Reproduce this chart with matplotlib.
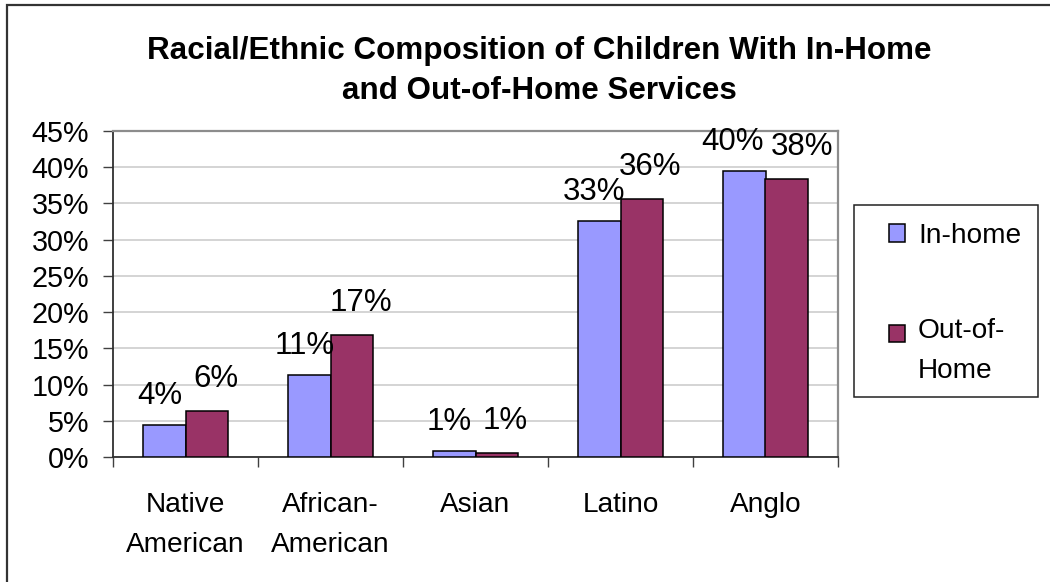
import matplotlib
matplotlib.use("Agg")
import matplotlib.pyplot as plt
import numpy as np
from matplotlib.patches import Rectangle
from matplotlib.legend_handler import HandlerPatch

# ---------------- data ----------------
categories = ["Native\nAmerican", "African-\nAmerican", "Asian", "Latino", "Anglo"]
series_names = ["In-home", "Out-of-\nHome"]
in_home = [4.4, 11.3, 0.8, 32.6, 39.5]
out_of_home = [6.3, 16.8, 0.6, 35.6, 38.4]
in_home_labels = ["4%", "11%", "1%", "33%", "40%"]
out_of_home_labels = ["6%", "17%", "1%", "36%", "38%"]
ytick_vals = [0, 5, 10, 15, 20, 25, 30, 35, 40, 45]
ytick_labels = ["0%", "5%", "10%", "15%", "20%", "25%", "30%", "35%", "40%", "45%"]
title = "Racial/Ethnic Composition of Children With In-Home\nand Out-of-Home Services"

# ---------------- style ----------------
plt.rcParams['font.family'] = ['Liberation Sans', 'DejaVu Sans']
W, H = 1050, 582
DPI = 100
c_in = "#9999FF"
c_out = "#993366"
fs = 20.2
fs_y = 20.7
fs_lab = 22.5

fig = plt.figure(figsize=(W / DPI, H / DPI), dpi=DPI)
fig.patch.set_facecolor("white")

def px2fig(x0, y0, x1, y1):
    return [x0 / W, 1 - y1 / H, (x1 - x0) / W, (y1 - y0) / H]

ax = fig.add_axes(px2fig(113, 131, 838, 457))

x = np.arange(len(categories))
bw = 0.29
b1 = ax.bar(x - bw / 2, in_home, bw, color=c_in, edgecolor="black", linewidth=1.1,
            label=series_names[0], zorder=3)
b2 = ax.bar(x + bw / 2, out_of_home, bw, color=c_out, edgecolor="black", linewidth=1.1,
            label=series_names[1], zorder=3)

pt = 72 / DPI  # points per pixel
ann_in, ann_out = [], []
for rect, lab in zip(b1, in_home_labels):
    ann_in.append(ax.annotate(lab, (rect.get_x() + rect.get_width() / 2, rect.get_height()),
                              xytext=(-5 * pt, 21 * pt), textcoords="offset points",
                              ha="center", va="baseline", fontsize=fs_lab, zorder=4))
for rect, lab in zip(b2, out_of_home_labels):
    ann_out.append(ax.annotate(lab, (rect.get_x() + rect.get_width() / 2, rect.get_height()),
                               xytext=(9 * pt, 24 * pt), textcoords="offset points",
                               ha="center", va="baseline", fontsize=fs_lab, zorder=4))

ax.set_xlim(-0.5, len(categories) - 0.5)
ax.set_ylim(0, 45)
ax.set_yticks(ytick_vals)
ax.set_yticklabels(ytick_labels, fontsize=fs_y)
ax.yaxis.grid(True, color="#d4d4d4", linewidth=1.4, zorder=0)
ax.set_axisbelow(True)

# x: ticks at category boundaries, labels at centres
ax.set_xticks(np.arange(len(categories) + 1) - 0.5)
ax.set_xticklabels([])
ax.set_xticks(x, minor=True)
ax.set_xticklabels(categories, minor=True, fontsize=fs)
ax.tick_params(axis="x", which="major", direction="out", length=7.2, width=1, color="#404040")
ax.tick_params(axis="x", which="minor", length=0, pad=25.5)
ax.tick_params(axis="y", direction="out", length=7.2, width=1, color="#404040", pad=10)
for t in ax.get_xticklabels(minor=True):
    t.set_linespacing(1.68)

for s in ["left", "bottom"]:
    ax.spines[s].set_color("#303030")
    ax.spines[s].set_linewidth(1.3)
for s in ["top", "right"]:
    ax.spines[s].set_color("#8c8c8c")
    ax.spines[s].set_linewidth(1.6)

# title
fig.text(539 / W, 1 - 36 / H, title, ha="center", va="top", fontsize=22.6,
         fontweight="bold", linespacing=1.45)

# legend frame
fig.patches.append(Rectangle((854 / W, 1 - 397 / H), (1038 - 854) / W, (397 - 205) / H,
                             transform=fig.transFigure, facecolor="white",
                             edgecolor="#222222", linewidth=1.1, zorder=1))


class ShiftedHandler(HandlerPatch):
    def __init__(self, shift=0.0, **kw):
        super().__init__(**kw)
        self.shift = shift

    def create_artists(self, legend, orig_handle, xdescent, ydescent, width, height,
                       fontsize, trans):
        r = Rectangle((-xdescent, -ydescent + self.shift * fontsize), width, height,
                      facecolor=orig_handle.get_facecolor(), edgecolor="black",
                      linewidth=1.1, transform=trans)
        return [r]


leg = fig.legend(handles=[b1.patches[0], b2.patches[0]], labels=series_names,
                 loc="upper left", bbox_to_anchor=(889 / W, 1 - 223 / H),
                 frameon=False, fontsize=fs, handlelength=0.58, handleheight=0.58,
                 handletextpad=0.45, labelspacing=2.45, borderpad=0, borderaxespad=0,
                 handler_map={b1.patches[0]: ShiftedHandler(0.0),
                              b2.patches[0]: ShiftedHandler(0.62)})
leg.set_zorder(5)
for t in leg.get_texts():
    t.set_linespacing(1.73)

# outer chart border
fig.patches.append(Rectangle((7 / W, -0.2), 1.5, 1.2 - 5 / H, transform=fig.transFigure,
                             facecolor="none", edgecolor="#333333", linewidth=1.6, zorder=0))

# push apart data labels that sit side by side at about the same height
fig.canvas.draw()
renderer = fig.canvas.get_renderer()
for a1, a2 in zip(ann_in, ann_out):
    e1 = a1.get_window_extent(renderer)
    e2 = a2.get_window_extent(renderer)
    same_row = abs(e1.y0 - e2.y0) < 0.5 * e1.height
    if same_row and e1.x1 + 7 > e2.x0:
        need = (e1.x1 - e2.x0 + 7) / 2
        ox1, oy1 = a1.xyann
        ox2, oy2 = a2.xyann
        a1.xyann = (ox1 - need * pt, oy1)
        a2.xyann = (ox2 + need * pt, oy2)

fig.savefig("out.png", dpi=DPI)
